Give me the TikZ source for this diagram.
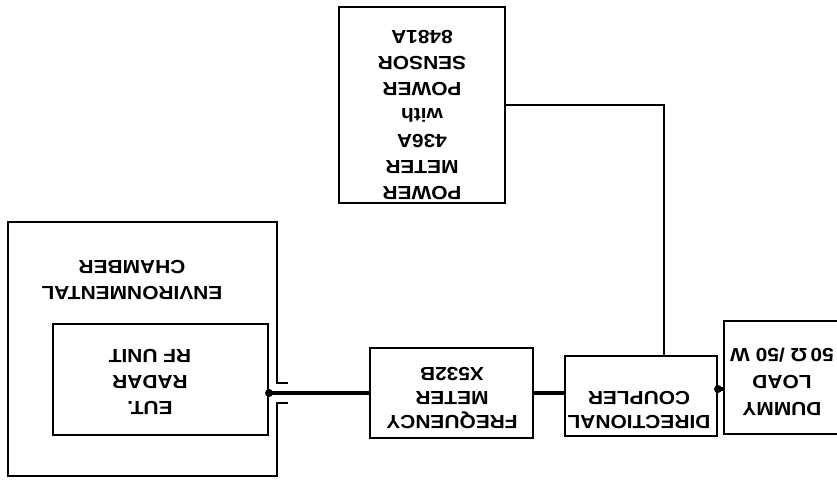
\documentclass[tikz,border=0pt]{standalone}
\usepackage{fontspec}
\setmainfont{Liberation Sans}[FakeStretch=1.1]
\usetikzlibrary{positioning}
% upside-down text block, as printed in the scan
\newcommand{\upside}[1]{\rotatebox[origin=c]{180}{\begin{tabular}{@{}c@{}}#1\end{tabular}}}

\begin{document}
\begin{tikzpicture}[
    x=1pt, y=1pt,
    box/.style={rectangle, draw=black, line width=2pt, inner sep=0pt},
    txt/.style={inner sep=0pt, font=\fontsize{19}{26}\selectfont\bfseries},
    tight/.style={font=\fontsize{19}{24}\selectfont\bfseries},
    wall/.style={line width=2pt},
    cable/.style={line width=4.5pt},
    wire/.style={line width=1.8pt},
    jdot/.style={circle, fill=black, inner sep=0pt, minimum size=8pt},
]
    \useasboundingbox (0,0) rectangle (837,487);
    \clip (0,0) rectangle (837,487);

    % environmental chamber with feed-through
    \draw[wall] (288,104) -- (277,104) -- (277,265) -- (8,265) -- (8,11) -- (277,11) -- (277,84) -- (288,84);
    \node[txt] (chtxt) at (132,208) {\upside{ENVIRONMENTAL\\CHAMBER}};

    \node[box, minimum width=215, minimum height=111] (eut) at (160.5,107.5) {};
    \node[txt] (euttxt) at (150,106) {\upside{EUT.\\RADAR\\RF UNIT}};

    \node[box, minimum width=163, minimum height=90] (fm) at (451.5,94) {};
    \node[txt, tight] (fmtxt) at (452,91) {\upside{FREQUENCY\\METER\\X532B}};

    \node[box, minimum width=152, minimum height=80] (dc) at (641,91) {};
    \node[txt, tight] (dctxt) at (639,79) {\upside{DIRECTIONAL\\COUPLER}};

    \node[box, minimum width=140, minimum height=113] (dl) at (794,109.5) {};
    \node[txt, font=\fontsize{19}{27}\selectfont\bfseries] (dltxt) at (782,106) {\upside{DUMMY\\LOAD\\50\,Ω /50 W}};

    \node[box, minimum width=166, minimum height=196] (pm) at (422,382) {};
    \node[txt] (pmtxt) at (422,373.5) {\upside{POWER\\METER\\436A\\with\\POWER\\SENSOR\\8481A}};

    % connections
    \draw[cable] (eut.east |- fm.west) -- (fm.west);
    \node[jdot] (j1) at (eut.east |- fm.west) {};
    \draw[cable] (fm.east) -- (fm.east -| dc.west);
    \draw[cable] ([yshift=7pt]dc.east) -- ([yshift=7pt]dc.east -| dl.west);
    \node[jdot] (j2) at ([yshift=7pt]dc.east) {};
    \draw[wire] (pm.east) -| ([xshift=23pt]dc.north);

\end{tikzpicture}
\end{document}
